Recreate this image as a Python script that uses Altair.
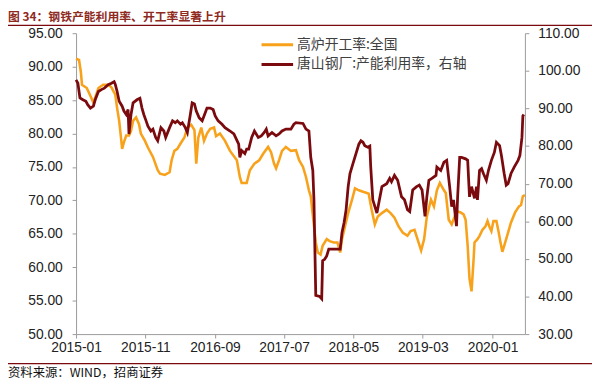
import altair as alt
import pandas as pd

# ---------------- data ----------------
orange_dates = [
    "2015-01-01", "2015-01-14", "2015-01-22", "2015-01-27", "2015-02-17", "2015-03-05", "2015-03-18",
    "2015-03-31", "2015-04-09", "2015-04-30", "2015-05-22", "2015-06-05", "2015-06-22", "2015-06-30",
    "2015-07-09", "2015-07-17", "2015-07-22", "2015-07-30", "2015-08-09", "2015-08-21", "2015-08-30",
    "2015-09-08", "2015-09-21", "2015-10-04", "2015-10-12", "2015-10-30", "2015-11-12", "2015-12-04",
    "2015-12-25", "2016-01-04", "2016-01-25", "2016-02-15", "2016-02-24", "2016-03-07", "2016-03-20",
    "2016-04-03", "2016-04-20", "2016-05-03", "2016-05-20", "2016-06-03", "2016-06-11", "2016-06-20",
    "2016-07-03", "2016-07-15", "2016-07-28", "2016-08-11", "2016-08-28", "2016-09-06", "2016-09-23",
    "2016-10-15", "2016-11-06", "2016-12-06", "2016-12-19", "2016-12-27", "2017-01-18", "2017-02-01",
    "2017-02-21", "2017-03-14", "2017-04-01", "2017-04-22", "2017-05-05", "2017-05-18", "2017-05-27",
    "2017-06-09", "2017-06-22", "2017-07-09", "2017-07-31", "2017-08-22", "2017-09-05", "2017-09-22",
    "2017-10-05", "2017-10-18", "2017-10-26", "2017-11-17", "2017-11-26", "2017-12-08", "2017-12-17",
    "2018-01-04", "2018-01-17", "2018-02-04", "2018-02-20", "2018-03-04", "2018-03-12", "2018-03-25",
    "2018-04-08", "2018-04-25", "2018-05-08", "2018-05-25", "2018-06-12", "2018-06-29", "2018-07-07",
    "2018-07-20", "2018-08-03", "2018-08-16", "2018-09-03", "2018-09-24", "2018-10-11", "2018-10-28",
    "2018-11-15", "2018-12-03", "2018-12-24", "2019-01-07", "2019-01-24", "2019-02-06", "2019-02-22",
    "2019-03-07", "2019-03-19", "2019-04-06", "2019-04-19", "2019-05-02", "2019-05-15", "2019-06-02",
    "2019-06-10", "2019-06-23", "2019-07-06", "2019-07-19", "2019-07-27", "2019-08-14", "2019-08-27",
    "2019-09-05", "2019-09-14", "2019-09-22", "2019-10-01", "2019-10-10", "2019-10-14", "2019-10-27",
    "2019-11-05", "2019-11-18", "2019-12-01", "2019-12-10", "2019-12-18", "2019-12-27", "2020-01-05",
    "2020-01-18", "2020-01-27", "2020-02-05", "2020-02-13", "2020-02-21", "2020-03-05", "2020-03-22",
    "2020-04-09", "2020-04-26", "2020-05-05", "2020-05-13", "2020-05-22",
]
orange_vals = [
    91.2, 91.0, 89.2, 87.3, 86.8, 85.6, 84.6,
    85.9, 86.8, 87.3, 87.3, 86.9, 85.8, 83.8,
    81.9, 79.4, 77.7, 78.7, 79.7, 79.7, 80.4,
    81.9, 82.4, 81.4, 80.0, 78.9, 77.9, 76.5,
    74.5, 74.0, 73.8, 74.2, 76.0, 77.4, 77.7,
    78.5, 79.4, 80.9, 81.3, 80.5, 75.5, 79.4,
    80.9, 78.9, 80.0, 80.7, 80.9, 79.6, 80.0,
    78.9, 77.4, 76.0, 73.5, 72.6, 72.6, 74.5,
    75.5, 76.0, 77.0, 78.0, 77.2, 75.5, 74.8,
    76.0, 77.4, 78.0, 77.4, 77.5, 76.0, 75.0,
    73.5, 71.5, 70.6, 63.7, 62.2, 61.9, 63.2,
    64.2, 63.9, 63.7, 63.7, 62.2, 64.2, 66.1,
    68.1, 70.1, 71.8, 71.5, 71.3, 71.1, 71.0,
    68.6, 66.4, 67.6, 68.1, 68.6, 68.1, 67.4,
    66.1, 65.2, 64.7, 65.4, 65.6, 64.2, 62.5,
    64.2, 67.6, 70.1, 69.1, 71.5, 72.6, 71.5,
    71.1, 67.1, 66.4, 67.6, 68.4, 68.2, 67.9,
    67.1, 63.2, 58.3, 56.4, 61.2, 63.7, 64.2,
    64.7, 65.6, 66.1, 66.9, 66.1, 65.4, 66.9,
    66.9, 65.4, 63.7, 62.3, 63.2, 64.7, 66.7,
    68.2, 69.1, 69.3, 70.6, 70.8,
]

red_dates = [
    "2015-01-01", "2015-01-09", "2015-01-18", "2015-01-31", "2015-02-13", "2015-02-21", "2015-03-05",
    "2015-03-18", "2015-03-26", "2015-04-09", "2015-04-22", "2015-05-05", "2015-05-22", "2015-06-05",
    "2015-06-17", "2015-06-22", "2015-06-30", "2015-07-09", "2015-07-22", "2015-07-30", "2015-08-09",
    "2015-08-17", "2015-08-21", "2015-08-30", "2015-09-08", "2015-09-25", "2015-10-08", "2015-10-17",
    "2015-10-25", "2015-11-04", "2015-11-12", "2015-11-25", "2015-12-04", "2015-12-16", "2015-12-25",
    "2016-01-08", "2016-01-21", "2016-01-29", "2016-02-15", "2016-02-28", "2016-03-11", "2016-03-20",
    "2016-04-03", "2016-04-11", "2016-04-24", "2016-05-03", "2016-05-16", "2016-05-24", "2016-06-03",
    "2016-06-11", "2016-06-24", "2016-07-07", "2016-07-15", "2016-07-28", "2016-08-11", "2016-08-24",
    "2016-09-02", "2016-09-15", "2016-10-02", "2016-10-15", "2016-11-06", "2016-11-23", "2016-12-14",
    "2016-12-19", "2016-12-27", "2017-01-10", "2017-01-18", "2017-01-27", "2017-02-09", "2017-02-21",
    "2017-03-10", "2017-03-23", "2017-04-05", "2017-04-14", "2017-04-22", "2017-05-09", "2017-05-27",
    "2017-06-09", "2017-06-22", "2017-07-09", "2017-07-31", "2017-08-13", "2017-08-22", "2017-09-22",
    "2017-10-05", "2017-10-18", "2017-10-26", "2017-11-04", "2017-11-09", "2017-11-17", "2017-12-04",
    "2017-12-13", "2017-12-17", "2017-12-26", "2018-01-04", "2018-01-13", "2018-03-04", "2018-03-12",
    "2018-03-21", "2018-03-30", "2018-04-08", "2018-04-16", "2018-04-29", "2018-05-12", "2018-05-25",
    "2018-06-03", "2018-06-12", "2018-06-20", "2018-07-03", "2018-07-12", "2018-07-16", "2018-07-25",
    "2018-08-12", "2018-09-03", "2018-09-24", "2018-10-07", "2018-10-15", "2018-10-28", "2018-11-11",
    "2018-11-28", "2018-12-11", "2018-12-24", "2019-01-03", "2019-01-16", "2019-02-02", "2019-02-14",
    "2019-02-26", "2019-03-11", "2019-03-19", "2019-03-28", "2019-04-10", "2019-04-28", "2019-05-02",
    "2019-05-19", "2019-06-02", "2019-06-14", "2019-06-27", "2019-07-06", "2019-07-14", "2019-07-27",
    "2019-08-01", "2019-08-10", "2019-08-18", "2019-09-05", "2019-09-14", "2019-09-22", "2019-10-01",
    "2019-10-14", "2019-10-23", "2019-10-27", "2019-11-05", "2019-11-14", "2019-11-22", "2019-12-05",
    "2019-12-14", "2019-12-27", "2020-01-09", "2020-01-18", "2020-02-01", "2020-02-09", "2020-02-21",
    "2020-03-01", "2020-03-09", "2020-03-22", "2020-04-05", "2020-04-22", "2020-04-30", "2020-05-09",
    "2020-05-13", "2020-05-17",
]
red_vals = [
    97.6, 96.7, 92.8, 92.3, 91.9, 91.0, 90.1,
    90.6, 92.3, 94.5, 95.0, 95.4, 96.3, 96.7,
    97.1, 96.4, 94.5, 91.9, 90.6, 89.3, 88.4,
    89.7, 83.2, 88.4, 91.5, 92.3, 92.7, 90.1,
    88.4, 86.7, 85.3, 84.0, 84.5, 82.3, 81.4,
    84.9, 84.0, 82.3, 84.9, 86.7, 86.2, 86.7,
    85.8, 86.2, 84.9, 83.6, 88.4, 91.5, 91.2,
    89.3, 87.5, 86.7, 88.0, 90.1, 90.1, 89.7,
    88.0, 86.7, 85.8, 84.9, 84.0, 83.2, 80.5,
    77.0, 78.8, 78.0, 79.2, 79.2, 82.3, 84.0,
    82.3, 82.7, 83.6, 84.5, 82.7, 83.6, 82.7,
    83.2, 84.0, 84.5, 84.5, 85.8, 86.2, 86.0,
    84.5, 84.0, 77.0, 73.5, 65.7, 40.3, 40.0,
    39.4, 49.5, 49.9, 50.8, 52.6, 52.6, 57.0,
    59.6, 63.1, 69.2, 72.7, 75.3, 77.9, 80.5,
    81.4, 81.0, 80.1, 79.7, 80.0, 74.4, 65.7,
    62.2, 69.2, 70.0, 71.4, 70.5, 72.2, 70.9,
    66.5, 65.7, 63.1, 62.6, 68.3, 69.2, 69.6,
    68.3, 61.3, 66.5, 70.9, 71.4, 72.2, 74.4,
    73.5, 75.7, 76.2, 69.2, 63.9, 65.7, 58.7,
    66.5, 77.0, 77.0, 76.6, 76.2, 66.5, 69.2,
    66.1, 69.2, 65.7, 73.5, 74.0, 72.7, 70.9,
    73.5, 76.2, 78.3, 81.0, 80.1, 77.5, 72.7,
    69.6, 70.0, 72.7, 74.4, 76.2, 77.5, 82.3,
    88.0, 88.4,
]

left_ticks = [50, 55, 60, 65, 70, 75, 80, 85, 90, 95]
right_ticks = [30, 40, 50, 60, 70, 80, 90, 100, 110]
x_ticks = ["2015-01-01", "2015-11-01", "2016-09-01", "2017-07-01", "2018-05-01", "2019-03-01", "2020-01-01"]
x_domain = ["2015-01-01", "2020-05-22"]

title_text = "图 34：钢铁产能利用率、开工率显著上升"
source_text = "资料来源：WIND，招商证券"
legend_labels = ["高炉开工率:全国", "唐山钢厂:产能利用率，右轴"]

# ---------------- styling ----------------
ORANGE = "#F8A21B"
RED = "#7B0A0E"
BROWN = "#8E2A1E"
AXIS_GRAY = "#9A9A9A"
NUM_FONT = "Liberation Sans"
CJK_FONT = "Noto Sans CJK SC"

W, H = 455, 305


def dt(s):
    y, m, d = (int(p) for p in s.split("-"))
    return alt.DateTime(year=y, month=m, date=d, utc=True)


df_o = pd.DataFrame({"date": orange_dates, "value": orange_vals})
df_r = pd.DataFrame({"date": red_dates, "value": red_vals})

x_enc = alt.X(
    "date:T",
    scale=alt.Scale(type="utc", domain=[dt(s) for s in x_domain], nice=False),
    axis=alt.Axis(
        values=[dt(s) for s in x_ticks], format="%Y-%m", title=None, grid=False,
        labelPadding=3, labelFlush=False, labelOverlap=False,
    ),
)

orange_line = alt.Chart(df_o).mark_line(color=ORANGE, strokeWidth=2.6).encode(
    x=x_enc,
    y=alt.Y(
        "value:Q",
        scale=alt.Scale(domain=[50, 95], nice=False, zero=False),
        axis=alt.Axis(values=left_ticks, format=".2f", title=None, grid=False,
                      orient="left", labelPadding=10),
    ),
)

red_line = alt.Chart(df_r).mark_line(color=RED, strokeWidth=2.8).encode(
    x=x_enc,
    y=alt.Y(
        "value:Q",
        scale=alt.Scale(domain=[30, 110], nice=False, zero=False),
        axis=alt.Axis(values=right_ticks, format=".2f", title=None, grid=False,
                      orient="right", labelPadding=9),
    ),
)

one = pd.DataFrame({"k": [0]})

# legend (inside plot, top)
leg_o_rule = alt.Chart(one).mark_rule(color=ORANGE, strokeWidth=3).encode(
    x=alt.value(188), x2=alt.value(220), y=alt.value(11.7))
leg_r_rule = alt.Chart(one).mark_rule(color=RED, strokeWidth=3).encode(
    x=alt.value(188), x2=alt.value(220), y=alt.value(31.7))
leg_text = alt.Chart(pd.DataFrame({"t": legend_labels, "yy": [11.7, 31.7]})).mark_text(
    align="left", baseline="middle", font=CJK_FONT, fontSize=14, color="#404040"
).encode(text="t:N", x=alt.value(224), y=alt.Y("yy:Q", scale=None))

# title, rules and source
title_mark = alt.Chart(pd.DataFrame({"t": [title_text]})).mark_text(
    align="left", baseline="alphabetic", font=CJK_FONT, fontSize=12, fontWeight="bold", color=BROWN
).encode(text="t:N", x=alt.value(-69), y=alt.value(-12))
top_rule = alt.Chart(one).mark_rule(color=RED, strokeWidth=1.2).encode(
    x=alt.value(-69), x2=alt.value(523), y=alt.value(-8))
bottom_rule = alt.Chart(one).mark_rule(color=RED, strokeWidth=1.2).encode(
    x=alt.value(-69), x2=alt.value(523), y=alt.value(335))
source_mark = alt.Chart(pd.DataFrame({"t": [source_text]})).mark_text(
    align="left", baseline="middle", font=CJK_FONT, fontSize=12.5, color="#111111"
).encode(text="t:N", x=alt.value(-69), y=alt.value(344))

chart = (
    alt.layer(orange_line, red_line, leg_o_rule, leg_r_rule, leg_text,
              title_mark, top_rule, bottom_rule, source_mark)
    .resolve_scale(y="independent")
    .properties(
        width=W, height=H,
        autosize=alt.AutoSizeParams(type="none"),
        padding={"left": 69, "top": 23, "right": 68, "bottom": 46},
        background="white",
    )
    .configure_view(stroke=None)
    .configure_axis(
        domainColor=AXIS_GRAY, tickColor=AXIS_GRAY, tickSize=4, domainWidth=1,
        labelFont=NUM_FONT, labelFontSize=14, labelColor="#222222",
    )
)

chart.save("out.html", embed_options={"renderer": "svg", "actions": False})
